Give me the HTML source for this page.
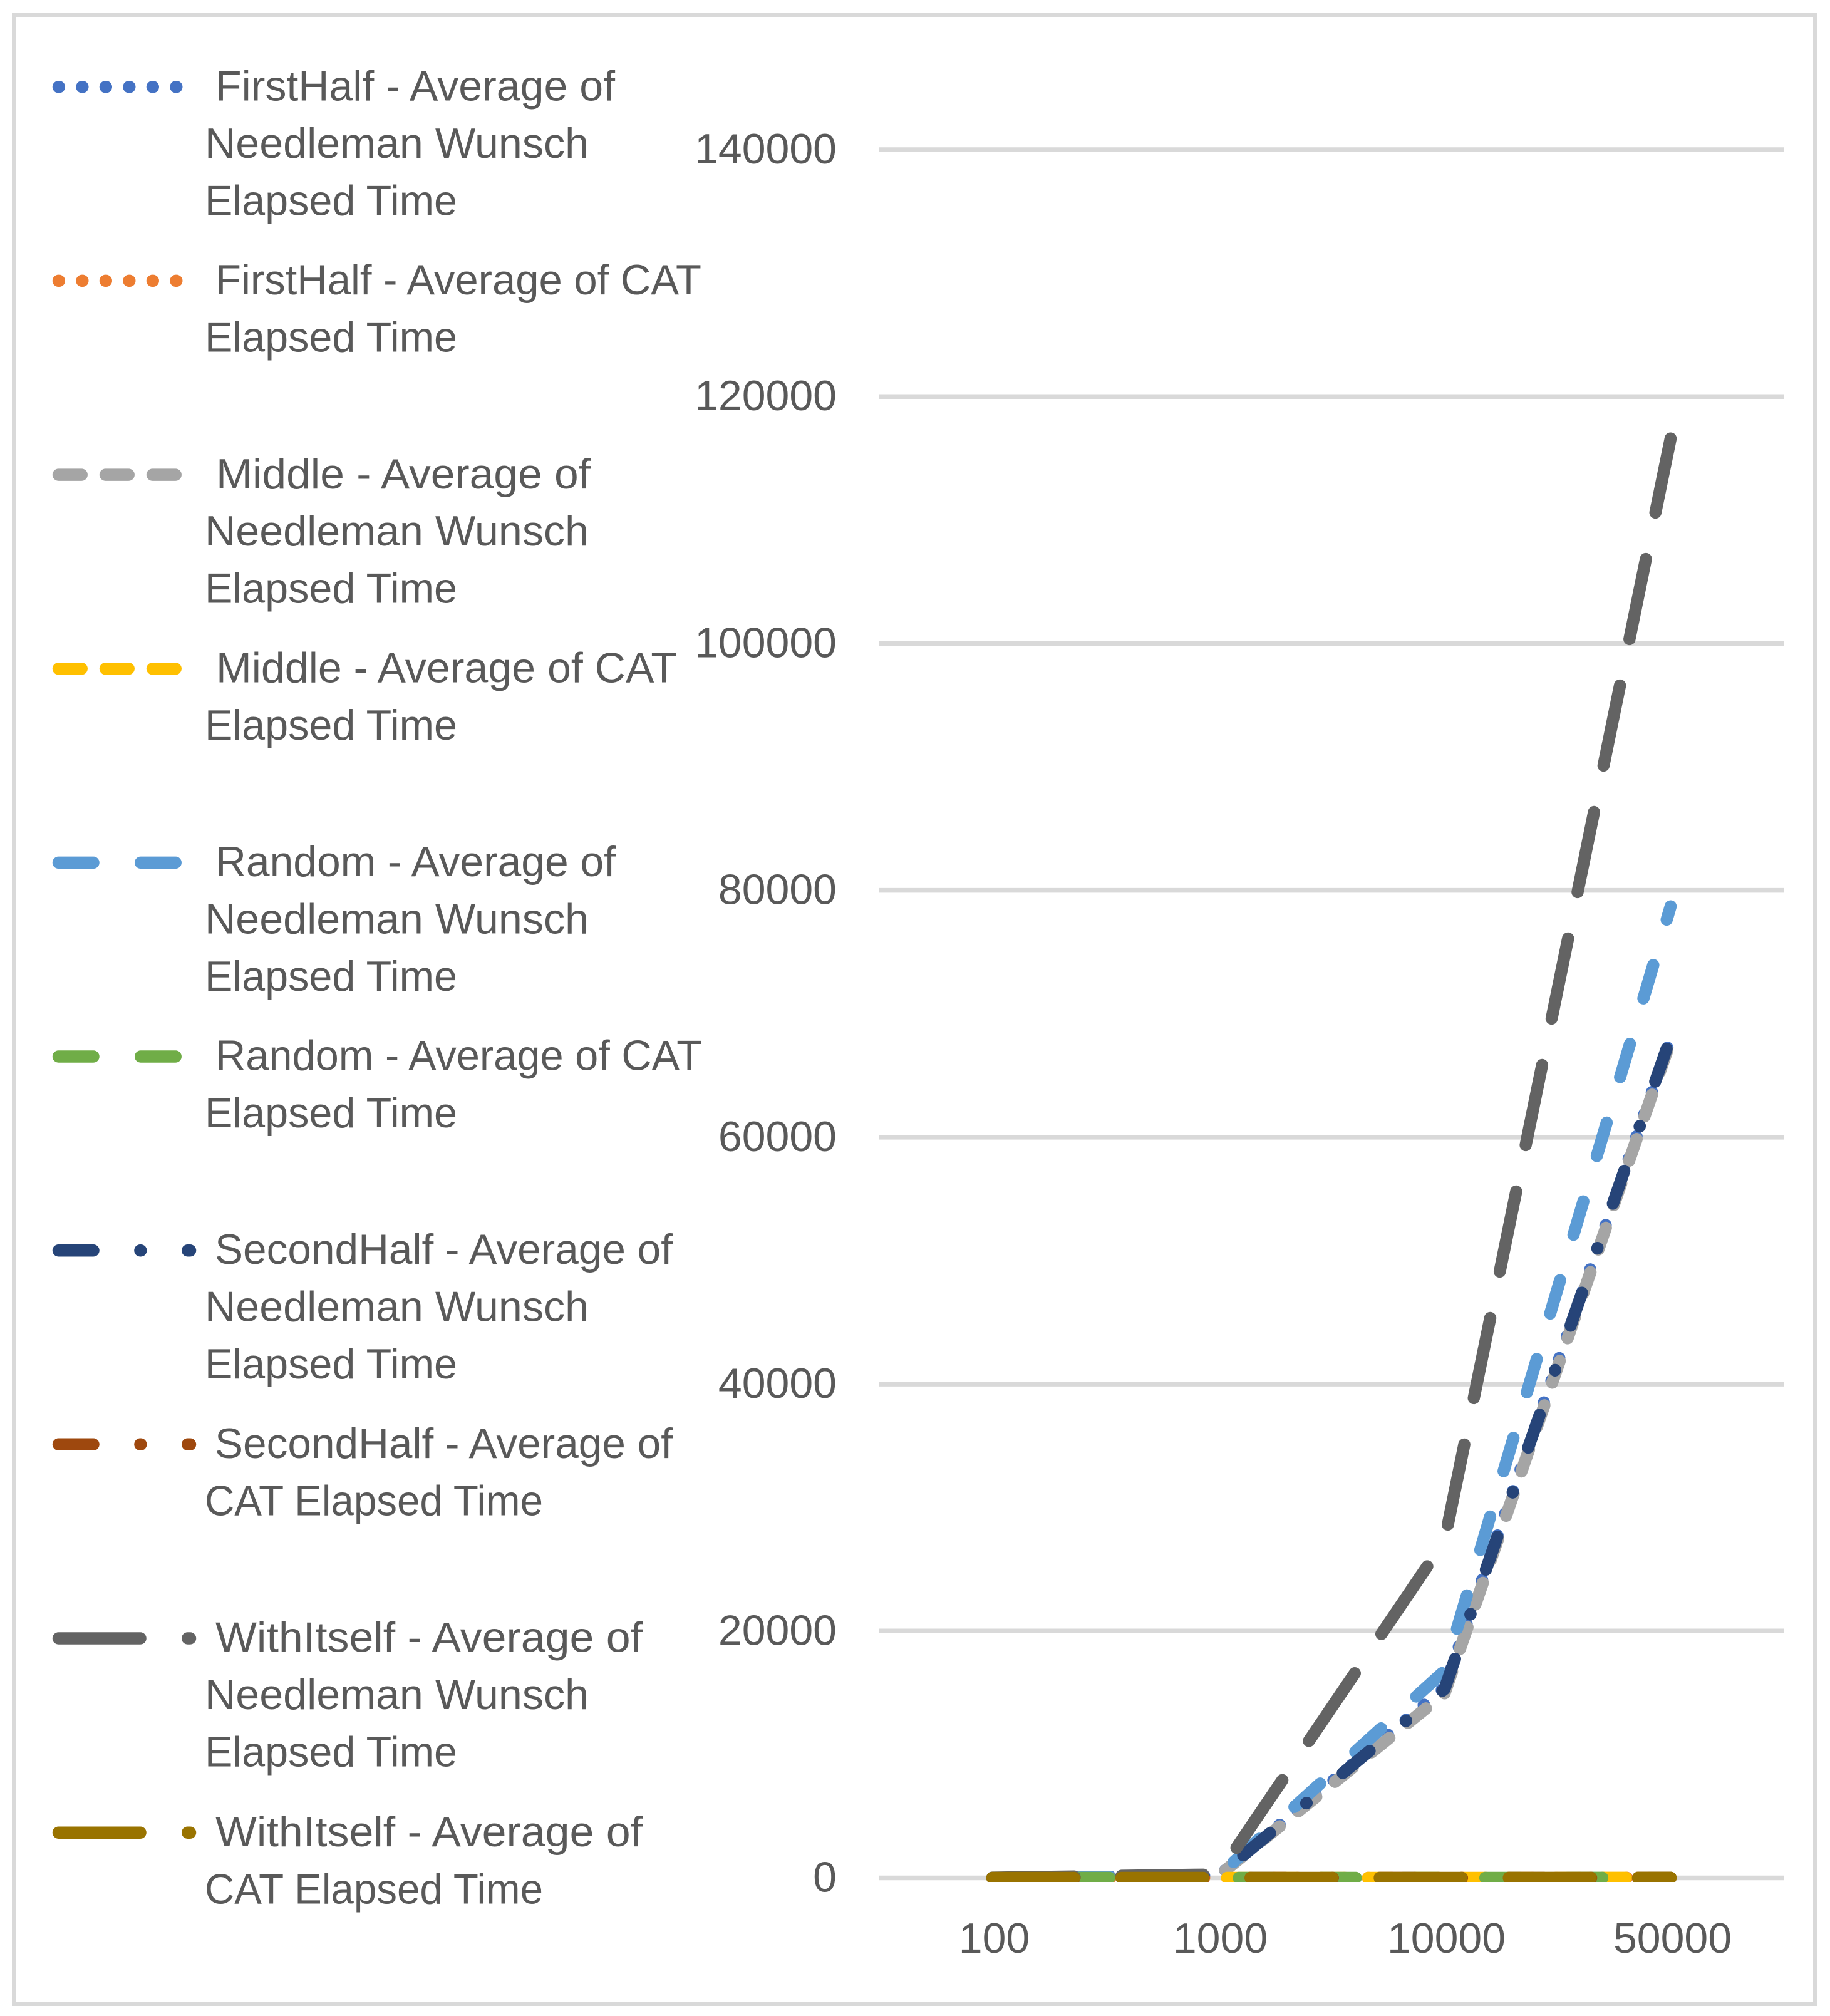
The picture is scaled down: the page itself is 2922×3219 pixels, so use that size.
<!DOCTYPE html>
<html lang="en">
<head>
<meta charset="utf-8">
<title>Elapsed time chart</title>
<style>
html,body{margin:0;padding:0;background:#fff;}
svg{display:block;}
text{font-family:"Liberation Sans",sans-serif;font-size:68px;fill:#595959;}
</style>
</head>
<body>
<svg id="chart" xmlns="http://www.w3.org/2000/svg" width="2922" height="3219" viewBox="0 0 2922 3219">
  <rect x="0" y="0" width="2922" height="3219" fill="#fff"/>
  <rect x="22.5" y="23.5" width="2876" height="3176" fill="none" stroke="#d9d9d9" stroke-width="7"/>
  <g id="plot"></g>
  <g stroke-linecap="round" stroke-width="19.5">
    <g>
      <line x1="93.5" x2="303.5" y1="138.8" y2="138.8" stroke="#4472C4" stroke-dasharray="0.8 36.69"/>
      <text stroke="none" x="344" y="160.5" textLength="638" lengthAdjust="spacingAndGlyphs">FirstHalf - Average of</text>
      <text stroke="none" x="327" y="252" textLength="613" lengthAdjust="spacingAndGlyphs">Needleman Wunsch</text>
      <text stroke="none" x="327" y="343.5" textLength="403" lengthAdjust="spacingAndGlyphs">Elapsed Time</text>
    </g>
    <g>
      <line x1="93.5" x2="303.5" y1="448.4" y2="448.4" stroke="#ED7D31" stroke-dasharray="0.8 36.69"/>
      <text stroke="none" x="344" y="470" textLength="776" lengthAdjust="spacingAndGlyphs">FirstHalf - Average of CAT</text>
      <text stroke="none" x="327" y="561.5" textLength="403" lengthAdjust="spacingAndGlyphs">Elapsed Time</text>
    </g>
    <g>
      <line x1="93.5" x2="303.5" y1="758.1" y2="758.1" stroke="#A5A5A5" stroke-dasharray="36.7 38.3"/>
      <text stroke="none" x="345" y="780" textLength="598" lengthAdjust="spacingAndGlyphs">Middle - Average of</text>
      <text stroke="none" x="327" y="871" textLength="613" lengthAdjust="spacingAndGlyphs">Needleman Wunsch</text>
      <text stroke="none" x="327" y="962.5" textLength="403" lengthAdjust="spacingAndGlyphs">Elapsed Time</text>
    </g>
    <g>
      <line x1="93.5" x2="303.5" y1="1067.7" y2="1067.7" stroke="#FFC000" stroke-dasharray="36.7 38.3"/>
      <text stroke="none" x="345" y="1089.5" textLength="736" lengthAdjust="spacingAndGlyphs">Middle - Average of CAT</text>
      <text stroke="none" x="327" y="1181" textLength="403" lengthAdjust="spacingAndGlyphs">Elapsed Time</text>
    </g>
    <g>
      <line x1="93.5" x2="303.5" y1="1377.4" y2="1377.4" stroke="#5B9BD5" stroke-dasharray="55.5 75.7"/>
      <text stroke="none" x="344" y="1399" textLength="639" lengthAdjust="spacingAndGlyphs">Random - Average of</text>
      <text stroke="none" x="327" y="1490.5" textLength="613" lengthAdjust="spacingAndGlyphs">Needleman Wunsch</text>
      <text stroke="none" x="327" y="1582" textLength="403" lengthAdjust="spacingAndGlyphs">Elapsed Time</text>
    </g>
    <g>
      <line x1="93.5" x2="303.5" y1="1687" y2="1687" stroke="#70AD47" stroke-dasharray="55.5 75.7"/>
      <text stroke="none" x="344" y="1708.5" textLength="777" lengthAdjust="spacingAndGlyphs">Random - Average of CAT</text>
      <text stroke="none" x="327" y="1800" textLength="403" lengthAdjust="spacingAndGlyphs">Elapsed Time</text>
    </g>
    <g>
      <line x1="93.5" x2="303.5" y1="1996.7" y2="1996.7" stroke="#264478" stroke-dasharray="55.5 74.95 0.8 74.95"/>
      <text stroke="none" x="343" y="2018" textLength="731" lengthAdjust="spacingAndGlyphs">SecondHalf - Average of</text>
      <text stroke="none" x="327" y="2109.5" textLength="613" lengthAdjust="spacingAndGlyphs">Needleman Wunsch</text>
      <text stroke="none" x="327" y="2201" textLength="403" lengthAdjust="spacingAndGlyphs">Elapsed Time</text>
    </g>
    <g>
      <line x1="93.5" x2="303.5" y1="2306.3" y2="2306.3" stroke="#9E480E" stroke-dasharray="55.5 74.95 0.8 74.95"/>
      <text stroke="none" x="343" y="2328" textLength="731" lengthAdjust="spacingAndGlyphs">SecondHalf - Average of</text>
      <text stroke="none" x="327" y="2419.5" textLength="540" lengthAdjust="spacingAndGlyphs">CAT Elapsed Time</text>
    </g>
    <g>
      <line x1="93.5" x2="303.5" y1="2616" y2="2616" stroke="#636363" stroke-dasharray="130.5 75.7"/>
      <text stroke="none" x="344" y="2637.5" textLength="682" lengthAdjust="spacingAndGlyphs">WithItself - Average of</text>
      <text stroke="none" x="327" y="2729" textLength="613" lengthAdjust="spacingAndGlyphs">Needleman Wunsch</text>
      <text stroke="none" x="327" y="2820.5" textLength="403" lengthAdjust="spacingAndGlyphs">Elapsed Time</text>
    </g>
    <g>
      <line x1="93.5" x2="303.5" y1="2926.2" y2="2926.2" stroke="#997300" stroke-dasharray="130.5 75.7"/>
      <text stroke="none" x="344" y="2948" textLength="682" lengthAdjust="spacingAndGlyphs">WithItself - Average of</text>
      <text stroke="none" x="327" y="3039.5" textLength="540" lengthAdjust="spacingAndGlyphs">CAT Elapsed Time</text>
    </g>
  </g>
</svg>
<script>
const categories = ['100', '1000', '10000', '50000'];
const yTickValues = [0, 20000, 40000, 60000, 80000, 100000, 120000, 140000];

const firstHalfNW = [5, 170, 15400, 68000];
const firstHalfCAT = [0, 1, 2, 4];
const middleNW = [5, 170, 14940, 67800];
const middleCAT = [0, 1, 2, 4];
const randomNW = [5, 170, 16770, 78700];
const randomCAT = [0, 1, 2, 4];
const secondHalfNW = [5, 170, 15300, 68100];
const secondHalfCAT = [0, 1, 2, 4];
const withItselfNW = [20, 280, 27300, 116600];
const withItselfCAT = [0, 1, 2, 4];

const NS = 'http://www.w3.org/2000/svg';
const plot = document.getElementById('plot');

function xAxis(i) { return 1584.5 + 361 * i; }
function yAxis(v) { return 2998.5 - v * (2759.5 / 140000); }

const defs = document.createElementNS(NS, 'defs');
const clip = document.createElementNS(NS, 'clipPath');
clip.setAttribute('id', 'plot-clip');
const clipRect = document.createElementNS(NS, 'rect');
clipRect.setAttribute('x', 1404);
clipRect.setAttribute('y', 30);
clipRect.setAttribute('width', 1444);
clipRect.setAttribute('height', 2975);
clip.appendChild(clipRect);
defs.appendChild(clip);
plot.appendChild(defs);

yTickValues.forEach(function (v) {
  const grid = document.createElementNS(NS, 'line');
  
  
  grid.setAttribute('x1', 1404);
  grid.setAttribute('x2', 2848);
  grid.setAttribute('y1', yAxis(v));
  grid.setAttribute('y2', yAxis(v));
  grid.setAttribute('stroke', '#d9d9d9');
  grid.setAttribute('stroke-width', 7.5);
  plot.appendChild(grid);

  const label = document.createElementNS(NS, 'text');
  
  
  label.setAttribute('x', 1336);
  label.setAttribute('y', yAxis(v) + 22);
  label.setAttribute('text-anchor', 'end');
  label.textContent = String(v);
  plot.appendChild(label);
});

categories.forEach(function (c, i) {
  const label = document.createElementNS(NS, 'text');
  
  
  label.setAttribute('x', xAxis(i) + 3);
  label.setAttribute('y', 3118);
  label.setAttribute('text-anchor', 'middle');
  label.textContent = c;
  plot.appendChild(label);
});

const marks = document.createElementNS(NS, 'g');


marks.setAttribute('clip-path', 'url(#plot-clip)');
plot.appendChild(marks);

function drawSeries(values, color, dash) {
  const d = values.map(function (v, i) {
    return (i ? 'L' : 'M') + xAxis(i) + ' ' + yAxis(v);
  }).join(' ');
  const line = document.createElementNS(NS, 'path');
  line.setAttribute('d', d);
  line.setAttribute('fill', 'none');
  line.setAttribute('stroke', color);
  line.setAttribute('stroke-width', 19.5);
  line.setAttribute('stroke-linecap', 'round');
  line.setAttribute('stroke-linejoin', 'round');
  line.setAttribute('stroke-dasharray', dash);
  marks.appendChild(line);
  return line;
}

const s1 = drawSeries(firstHalfNW, '#4472C4', '0.8 36.69');


const s2 = drawSeries(firstHalfCAT, '#ED7D31', '0.8 36.69');


const s3 = drawSeries(middleNW, '#A5A5A5', '36.7 38.3');


const s4 = drawSeries(middleCAT, '#FFC000', '36.7 38.3');


const s5 = drawSeries(randomNW, '#5B9BD5', '55.5 75.7');


const s6 = drawSeries(randomCAT, '#70AD47', '55.5 75.7');


const s7 = drawSeries(secondHalfNW, '#264478', '55.5 74.95 0.8 74.95');


const s8 = drawSeries(secondHalfCAT, '#9E480E', '55.5 74.95 0.8 74.95');


const s9 = drawSeries(withItselfNW, '#636363', '130.5 75.7');


const s10 = drawSeries(withItselfCAT, '#997300', '130.5 75.7');


</script>
</body>
</html>
